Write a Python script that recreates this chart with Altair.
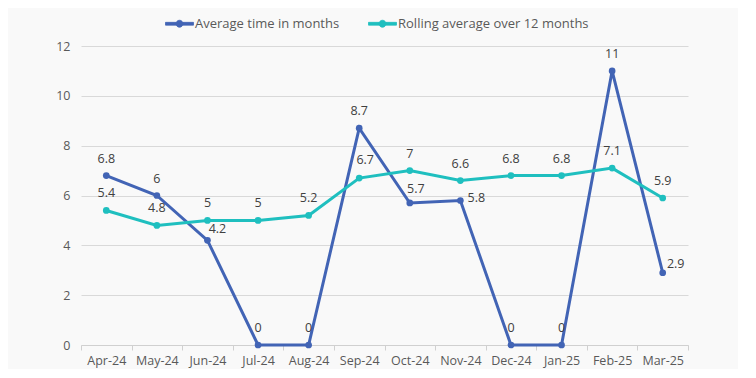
import altair as alt
import pandas as pd
import json

MONTHS = ["Apr-24", "May-24", "Jun-24", "Jul-24", "Aug-24", "Sep-24",
          "Oct-24", "Nov-24", "Dec-24", "Jan-25", "Feb-25", "Mar-25"]
AVG_TIME = [6.8, 6, 4.2, 0, 0, 8.7, 5.7, 5.8, 0, 0, 11, 2.9]
ROLLING = [5.4, 4.8, 5, 5, 5.2, 6.7, 7, 6.6, 6.8, 6.8, 7.1, 5.9]
SERIES = ["Average time in months", "Rolling average over 12 months"]
COLORS = ["#4264b5", "#1fbfbf"]

rows = []
for m, v in zip(MONTHS, AVG_TIME):
    rows.append({"month": m, "value": v, "series": SERIES[0]})
for m, v in zip(MONTHS, ROLLING):
    rows.append({"month": m, "value": v, "series": SERIES[1]})
df = pd.DataFrame(rows)

FONT = "Open Sans"

# label offsets (style), default is centered above the point
OFFSETS = {
    (SERIES[0], "Jun-24"): (10, -11),
    (SERIES[0], "Oct-24"): (6, -14),
    (SERIES[0], "Nov-24"): (16, -2),
    (SERIES[0], "Mar-25"): (13, -9),
    (SERIES[1], "Sep-24"): (6, -18),
}

LEGEND_SHAPE = ("M-1,-0.1L-0.22,-0.1L-0.22,0.1L-1,0.1Z "
                "M0.22,-0.1L1,-0.1L1,0.1L0.22,0.1Z "
                "M-0.25,0A0.25,0.25 0 1,1 0.25,0A0.25,0.25 0 1,1 -0.25,0Z")


def make_legend():
    return alt.Legend(title=None, orient="none", direction="horizontal",
                      legendX=84, legendY=-37,
                      symbolType=LEGEND_SHAPE, symbolSize=784,
                      symbolStrokeWidth=0.8, symbolOpacity=1,
                      labelFontSize=13, labelLimit=400,
                      labelFont=FONT, labelColor="#595959",
                      columnPadding=26, labelOffset=1)


x = alt.X("month:N", sort=MONTHS, title=None,
          scale=alt.Scale(paddingInner=0, paddingOuter=0),
          axis=alt.Axis(labelAngle=0, tickBand="extent", ticks=True, tickSize=5,
                        tickColor="#d0d0d0", domainColor="#d0d0d0",
                        labelColor="#595959", labelFontSize=12.5, labelFont=FONT,
                        labelPadding=4, grid=False))
y = alt.Y("value:Q", title=None,
          scale=alt.Scale(domain=[0, 12]),
          axis=alt.Axis(values=[0, 2, 4, 6, 8, 10, 12], domain=False, ticks=False,
                        labelColor="#595959", labelFontSize=12.5, labelFont=FONT,
                        labelPadding=11, gridColor="#d9d9d9", gridWidth=1))

base = alt.Chart(df)

lines = base.mark_line(strokeWidth=3).encode(
    x=x, y=y,
    stroke=alt.Stroke("series:N", scale=alt.Scale(domain=SERIES, range=COLORS),
                      legend=make_legend()))
points = base.mark_point(filled=True, size=45, opacity=1).encode(
    x=x, y=y,
    color=alt.Color("series:N", scale=alt.Scale(domain=SERIES, range=COLORS),
                    legend=make_legend()))

special = [f"{s}|{m}" for (s, m) in OFFSETS]
labels_default = base.transform_calculate(key="datum.series + '|' + datum.month").transform_filter(
    "indexof(" + json.dumps(special) + ", datum.key) < 0"
).mark_text(dy=-17, fontSize=12.5, font=FONT, color="#404040", baseline="middle").encode(
    x=x, y=y, text=alt.Text("value:Q"))

layers = [lines, points, labels_default]
for (s, m), (ddx, ddy) in OFFSETS.items():
    layers.append(
        base.transform_filter((alt.datum.series == s) & (alt.datum.month == m))
        .mark_text(dx=ddx, dy=ddy, fontSize=12.5, font=FONT, color="#404040", baseline="middle")
        .encode(x=x, y=y, text=alt.Text("value:Q"))
    )

chart = alt.layer(*layers).properties(
    width=607, height=299,
    autosize=alt.AutoSizeParams(type="none"),
    padding={"left": 73, "top": 38, "right": 50, "bottom": 24},
    background="#f9f9f9",
).configure_view(stroke=None)

chart.save("out.html", embed_options={"renderer": "svg", "actions": False})
